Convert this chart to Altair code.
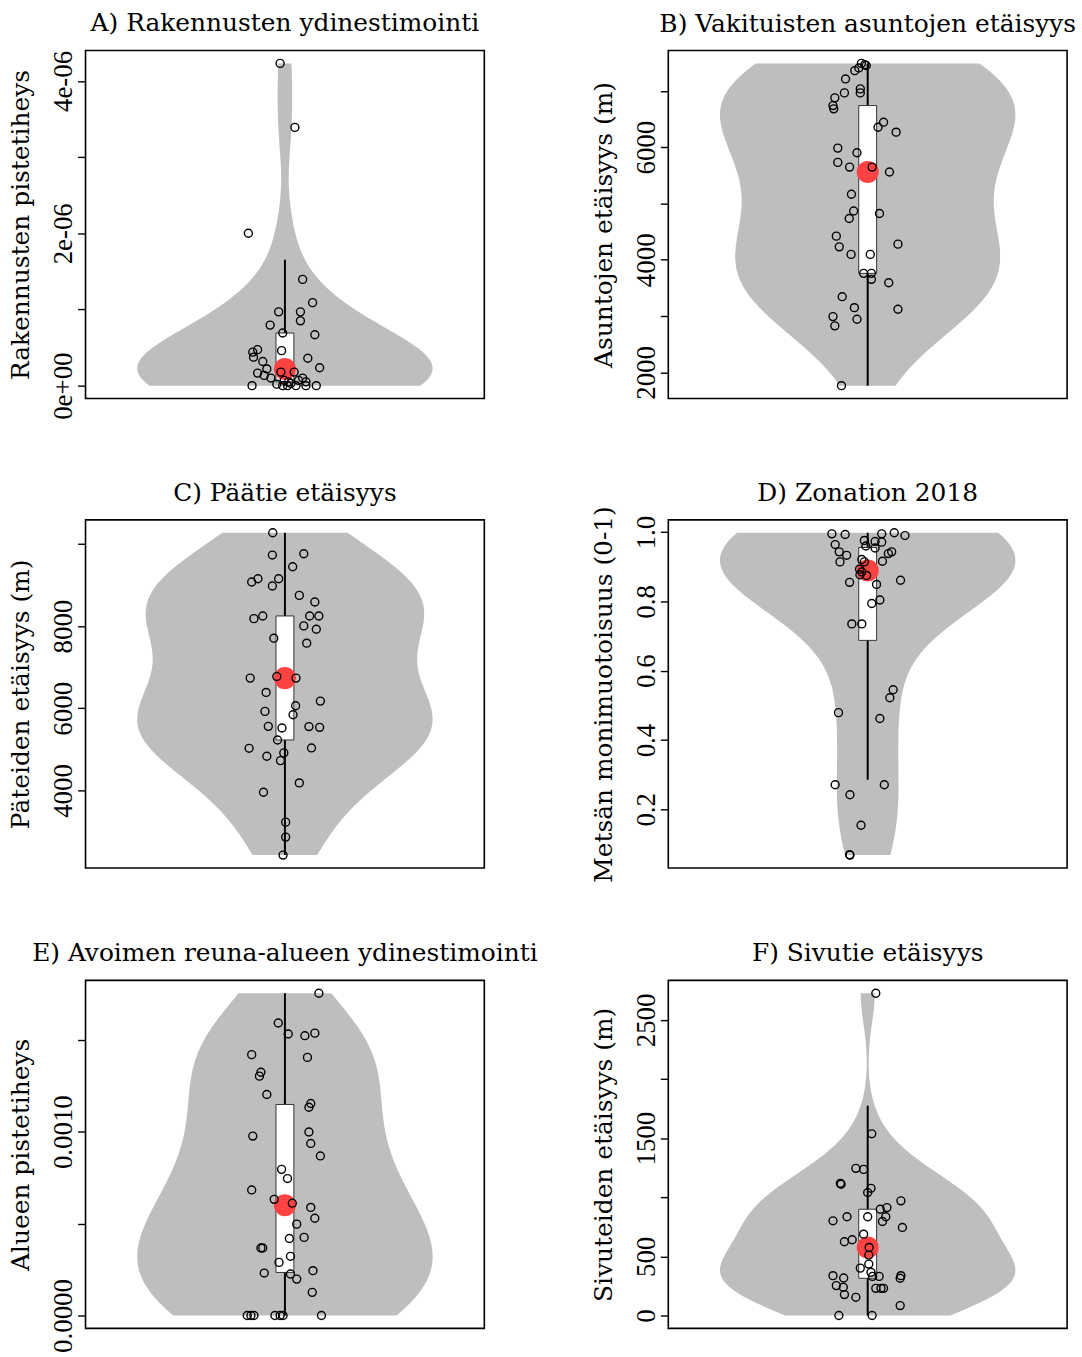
import altair as alt
import numpy as np
import pandas as pd

FONT = "DejaVu Serif"
LABEL_FONT = "Liberation Serif"

# ---------------- data ----------------
titles = [
    "A) Rakennusten ydinestimointi",
    "B) Vakituisten asuntojen etäisyys",
    "C) Päätie etäisyys",
    "D) Zonation 2018",
    "E) Avoimen reuna-alueen ydinestimointi",
    "F) Sivutie etäisyys",
]
ytitles = [
    "Rakennusten pistetiheys",
    "Asuntojen etäisyys (m)",
    "Päteiden etäisyys (m)",
    "Metsän monimuotoisuus (0-1)",
    "Alueen pistetiheys",
    "Sivuteiden etäisyys (m)",
]

a_vals = [4.23e-6, 3.39e-6, 2.00e-6, 1.395e-6, 1.09e-6, 0.969e-6, 0.969e-6, 0.851e-6, 0.795e-6,
          0.669e-6, 0.691e-6, 0.46e-6, 0.473e-6, 0.44e-6, 0.374e-6, 0.36e-6, 0.317e-6, 0.235e-6,
          0.22e-6, 0.178e-6, 0.178e-6, 0.165e-6, 0.135e-6, 0.10e-6, 0.10e-6, 0.07e-6, 0.07e-6,
          0.0, 0.0, 0.0, 0.0, 0.0, 0.0, 0.05e-6, 0.05e-6, 0.02e-6, 0.03e-6]
a_jit = [-0.013, 0.027, -0.099, 0.048, 0.075, -0.017, 0.042, 0.042, -0.040, 0.081, -0.006,
         -0.009, -0.074, -0.087, -0.085, 0.062, -0.060, 0.094, -0.049, -0.011, 0.025, -0.074,
         -0.056, -0.038, 0.048, -0.002, 0.037, -0.089, -0.006, 0.007, 0.030, 0.057, 0.085,
         0.010, 0.057, -0.022, 0.016]

b_vals = [7487, 7464, 7450, 7406, 7358, 7211, 7034, 6963, 6963, 6875, 6738, 6680, 6443, 6354,
          6266, 5983, 5901, 5729, 5646, 5646, 5558, 5163, 4867, 4733, 4821, 4420, 4230, 4278,
          4096, 4096, 3759, 3759, 3653, 3593, 3345, 3150, 3122, 2991, 2827, 2945, 1765]
b_jit = [-0.017, -0.008, -0.004, -0.024, -0.035, -0.060, -0.020, -0.020, -0.063, -0.089, -0.094,
         -0.092, 0.043, 0.028, 0.077, -0.081, -0.029, -0.081, -0.049, 0.012, 0.059, -0.044,
         -0.038, -0.050, 0.032, -0.085, -0.077, 0.082, -0.045, 0.007, -0.011, 0.010, 0.010,
         0.057, -0.069, -0.036, 0.082, -0.094, -0.089, -0.029, -0.071]

c_vals = [10269, 9727, 9758, 9444, 9152, 9072, 9152, 8975, 8746, 8586, 8246, 8181, 8246, 8246,
          8004, 7923, 7705, 7584, 6734, 6775, 6734, 6386, 6175, 6063, 5925, 5844, 5561, 5520,
          5555, 5537, 5229, 5027, 4833, 5036, 4915, 4728, 4185, 3959, 3231, 2867, 2430]
c_jit = [-0.033, -0.034, 0.051, 0.021, -0.073, -0.090, -0.017, -0.034, 0.039, 0.081, -0.060,
         -0.084, 0.067, 0.092, 0.051, 0.085, -0.030, 0.059, -0.094, -0.022, 0.030, -0.051,
         0.096, 0.029, -0.054, 0.022, -0.045, -0.008, 0.065, 0.094, -0.020, -0.097, -0.049,
         0.072, -0.003, -0.012, 0.039, -0.058, 0.002, 0.002, -0.005]

d_vals = [0.995, 0.993, 0.995, 0.998, 0.990, 0.976, 0.973, 0.971, 0.964, 0.954, 0.943, 0.943,
          0.938, 0.933, 0.914, 0.921, 0.916, 0.914, 0.893, 0.885, 0.877, 0.875, 0.855, 0.849,
          0.861, 0.804, 0.794, 0.735, 0.735, 0.545, 0.522, 0.479, 0.462, 0.271, 0.271, 0.242,
          0.154, 0.069, 0.068, 0.960]
d_jit = [-0.097, -0.061, 0.038, 0.072, 0.101, -0.009, 0.020, 0.038, -0.088, 0.020, -0.077,
         0.065, 0.056, -0.057, -0.075, -0.016, 0.040, -0.009, -0.022, -0.016, -0.021, -0.003,
         -0.049, 0.024, 0.089, 0.033, 0.011, -0.043, -0.016, 0.069, 0.060, -0.079, 0.033,
         -0.088, 0.045, -0.048, -0.018, -0.049, -0.048, -0.005]

e_vals = [0.001753, 0.001591, 0.001531, 0.001522, 0.001536, 0.001419, 0.001404, 0.001323,
          0.001302, 0.001202, 0.001153, 0.001133, 0.000976, 0.000998, 0.000936, 0.000868,
          0.000795, 0.000745, 0.000683, 0.000632, 0.000611, 0.000588, 0.000529, 0.000497,
          0.000419, 0.000425, 0.000367, 0.000367, 0.000322, 0.000289, 0.000244, 0.000231,
          0.000226, 0.000198, 0.000126, 0.0, 0.0, 0.0, 0.0, 0.0, 0.0, 0.0]
e_jit = [0.092, -0.018, 0.009, 0.054, 0.081, -0.090, 0.061, -0.065, -0.069, -0.049, 0.070,
         0.065, -0.087, 0.065, 0.070, 0.096, -0.009, 0.007, -0.090, -0.029, 0.020, 0.070,
         0.081, 0.032, 0.012, 0.052, -0.065, -0.060, 0.015, -0.016, 0.076, -0.056, 0.015,
         0.032, 0.074, -0.102, -0.092, -0.084, -0.027, -0.013, -0.005, 0.099]

f_vals = [2726, 1537, 1245, 1236, 1118, 1110, 1076, 1040, 970, 913, 899, 835, 795, 835, 801,
          835, 745, 624, 641, 688, 576, 511, 435, 401, 365, 337, 317, 331, 331, 337, 315, 253,
          239, 230, 230, 230, 177, 154, 84, 0, 0]
f_jit = [0.022, 0.011, -0.032, -0.011, -0.074, -0.072, 0.009, 0.0, 0.090, 0.052, 0.034, 0.049,
         0.040, -0.056, -0.094, 0.0, 0.094, -0.063, -0.042, -0.011, 0.004, 0.003, 0.003, -0.020,
         0.009, -0.094, -0.065, 0.013, 0.031, 0.090, 0.088, -0.085, -0.066, 0.022, 0.036, 0.043,
         -0.063, -0.032, 0.088, -0.078, 0.012]

# axis ticks and which of them carry a label
a_ticks = [0.0, 1e-6, 2e-6, 3e-6, 4e-6]
a_labels = {0.0: "0e+00", 2e-6: "2e-06", 4e-6: "4e-06"}
b_ticks = [2000, 3000, 4000, 5000, 6000, 7000]
b_labels = {2000: "2000", 4000: "4000", 6000: "6000"}
c_ticks = [4000, 6000, 8000, 10000]
c_labels = {4000: "4000", 6000: "6000", 8000: "8000"}
d_ticks = [0.2, 0.4, 0.6, 0.8, 1.0]
d_labels = {0.2: "0.2", 0.4: "0.4", 0.6: "0.6", 0.8: "0.8", 1.0: "1.0"}
e_ticks = [0.0, 0.0005, 0.0010, 0.0015]
e_labels = {0.0: "0.0000", 0.0010: "0.0010"}
f_ticks = [0, 500, 1000, 1500, 2000, 2500]
f_labels = {0: "0", 500: "500", 1500: "1500", 2500: "2500"}

GREY = "#BEBEBE"
RED = "#ff4242"


def label_expr(ticks, labels):
    step = abs(ticks[1] - ticks[0])
    eps = step * 1e-4
    parts = [f"abs(datum.value - ({float(v)!r})) < {eps!r} ? '{t}'" for v, t in labels.items()]
    return " : ".join(parts) + " : ''"


def panel(title, ytitle, vals, jit, ticks, labels, title_offset=14):
    n = len(vals)
    df = pd.DataFrame({"v": vals, "j": jit})
    vmin, vmax = float(min(vals)), float(max(vals))
    r = vmax - vmin
    dom = [vmin - 0.04 * r, vmax + 0.04 * r]
    sd = float(np.std(np.array(vals, dtype=float), ddof=1))
    bw = sd * (4.0 / (3.0 * n)) ** 0.2

    ysc = alt.Scale(domain=dom, nice=False, zero=False)
    xsc = alt.Scale(domain=[0.46, 1.54], nice=False, zero=False)
    yax = alt.Axis(
        values=ticks, labelExpr=label_expr(ticks, labels), title=ytitle,
        labelAngle=-90, labelAlign="center", labelBaseline="alphabetic",
        labelPadding=6, tickSize=8, tickWidth=1.4, tickColor="black",
        domain=False, grid=False, labelFlush=False, labelOverlap=False, labelBound=False,
        labelFont=LABEL_FONT, labelFontSize=27, labelColor="black",
        titleFont=FONT, titleFontSize=25, titleFontWeight="normal", titleColor="black",
        titlePadding=16,
    )
    base = alt.Chart(df)

    violin = base.transform_density(
        "v", as_=["v", "density"], bandwidth=bw, extent=[vmin, vmax], steps=200
    ).transform_joinaggregate(
        dmax="max(density)"
    ).transform_calculate(
        lo="1 - 0.4 * datum.density / datum.dmax",
        hi="1 + 0.4 * datum.density / datum.dmax",
    ).mark_area(orient="horizontal", color=GREY, opacity=1).encode(
        y=alt.Y("v:Q", scale=ysc, axis=yax),
        x=alt.X("lo:Q", scale=xsc, axis=None),
        x2="hi:Q",
    )

    stats = base.transform_aggregate(
        q1="q1(v)", q3="q3(v)", med="median(v)", mn="min(v)", mx="max(v)"
    ).transform_calculate(
        lw="max(datum.mn, datum.q1 - 1.5 * (datum.q3 - datum.q1))",
        uw="min(datum.mx, datum.q3 + 1.5 * (datum.q3 - datum.q1))",
        c="1",
    )
    whisker = stats.mark_rule(color="black", strokeWidth=2).encode(
        x=alt.X("c:Q", scale=xsc, axis=None),
        y=alt.Y("lw:Q", scale=ysc, axis=yax),
        y2="uw:Q",
    )
    box = stats.mark_rect(fill="white", stroke="#333333", strokeWidth=1,
                          xOffset=-9, x2Offset=9).encode(
        x=alt.X("c:Q", scale=xsc, axis=None),
        x2="c:Q",
        y=alt.Y("q1:Q", scale=ysc, axis=yax),
        y2="q3:Q",
    )
    med = stats.mark_circle(color=RED, size=490, opacity=1).encode(
        x=alt.X("c:Q", scale=xsc, axis=None),
        y=alt.Y("med:Q", scale=ysc, axis=yax),
    )
    pts = base.transform_calculate(px="1 + datum.j").mark_point(
        shape="circle", filled=False, color="black", size=64, strokeWidth=1.4, opacity=1
    ).encode(
        x=alt.X("px:Q", scale=xsc, axis=None),
        y=alt.Y("v:Q", scale=ysc, axis=yax),
    )
    return alt.layer(violin, whisker, box, med, pts).properties(
        width=401, height=350,
        title=alt.TitleParams(title, font=FONT, fontSize=25, fontWeight="normal",
                              anchor="middle", frame="group", offset=title_offset,
                              color="black"),
    )


pa = panel(titles[0], ytitles[0], a_vals, a_jit, a_ticks, a_labels)
pb = panel(titles[1], ytitles[1], b_vals, b_jit, b_ticks, b_labels)
pc = panel(titles[2], ytitles[2], c_vals, c_jit, c_ticks, c_labels)
pd_ = panel(titles[3], ytitles[3], d_vals, d_jit, d_ticks, d_labels, title_offset=0)
pe = panel(titles[4], ytitles[4], e_vals, e_jit, e_ticks, e_labels)
pf = panel(titles[5], ytitles[5], f_vals, f_jit, f_ticks, f_labels)

upper = alt.concat(pa, pb, pc, pd_, columns=2, bounds="flush",
                   spacing=alt.RowColnumber(row=122, column=185))
lower = alt.concat(pe, pf, columns=2, bounds="flush",
                   spacing=alt.RowColnumber(row=0, column=185))

chart = alt.vconcat(upper, lower, spacing=57).properties(
    padding={"left": 8, "top": 7, "right": 5, "bottom": 5},
    background="white",
).configure_view(stroke="black", strokeWidth=1.6)

chart.save("out.html", embed_options={"renderer": "svg", "actions": False})
